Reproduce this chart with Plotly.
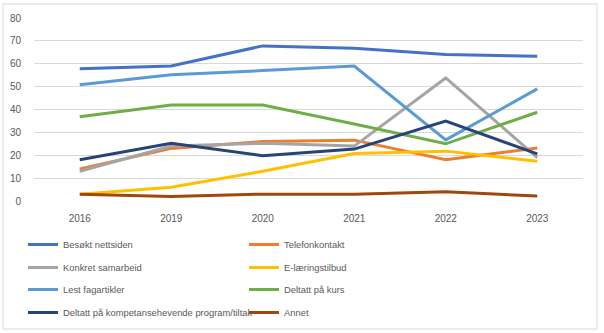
import plotly.graph_objects as go

years = ["2016", "2019", "2020", "2021", "2022", "2023"]
besokt = [57.8, 59, 67.8, 66.8, 64, 63.3]
telefon = [14, 23, 26, 26.6, 18, 23.2]
konkret = [13, 24, 25.2, 24, 53.8, 19]
elaering = [3, 6, 13, 20.8, 21.8, 17.4]
lest = [50.8, 55.2, 57, 59, 26.7, 49]
kurs = [36.8, 42, 42, 33.7, 25, 38.8]
kompetanse = [18, 25.2, 19.8, 22.7, 34.9, 20.6]
annet = [3, 2, 3, 3, 4, 2.2]

names = ["Besøkt nettsiden", "Telefonkontakt", "Konkret samarbeid", "E-læringstilbud",
         "Lest fagartikler", "Deltatt på kurs", "Deltatt på kompetansehevende program/tiltak", "Annet"]
series = [besokt, telefon, konkret, elaering, lest, kurs, kompetanse, annet]
colors = ["#4472C4", "#ED7D31", "#A5A5A5", "#FFC000", "#5B9BD5", "#70AD47", "#264478", "#9E480E"]

legend_ids = ["legend", "legend", "legend2", "legend2", "legend3", "legend3", "legend4", "legend4"]

fig = go.Figure()
for n, s, c, lg in zip(names, series, colors, legend_ids):
    fig.add_trace(go.Scatter(x=years, y=s, name=n, mode="lines", legend=lg,
                             line=dict(color=c, width=3)))

W, H = 604, 333
ml, mr, mt, mb = 34, 21, 18, 132
pw, ph = W - ml - mr, H - mt - mb

def px2x(p):
    return (p - ml) / pw

def px2y(p):
    return (H - mb - p) / ph

def leg(top):
    return dict(orientation="h", xref="container", yref="container",
                x=23 / W, xanchor="left", y=1 - top / H, yanchor="top",
                entrywidth=176, entrywidthmode="pixels", itemwidth=30,
                bgcolor="rgba(0,0,0,0)",
                font=dict(family="Liberation Sans", size=9.4, color="#595959"), traceorder="normal")

fig.update_layout(
    width=W, height=H,
    margin=dict(l=ml, r=mr, t=mt, b=mb, autoexpand=False),
    paper_bgcolor="white", plot_bgcolor="white",
    font=dict(family="Liberation Sans", size=10, color="#595959"),
    showlegend=True,
    legend=leg(230), legend2=leg(253), legend3=leg(275), legend4=leg(298),
    xaxis=dict(type="category", range=[-0.5, 5.5], showgrid=False, zeroline=False, showline=False,
               automargin=False,
               ticks="outside", ticklen=8, tickcolor="rgba(0,0,0,0)",
               tickfont=dict(size=10, color="#595959")),
    yaxis=dict(range=[0, 80], dtick=10, showgrid=True, gridcolor="#D9D9D9", gridwidth=1,
               automargin=False,
               zeroline=False, showline=False, ticks="outside", ticklen=10,
               tickcolor="rgba(0,0,0,0)", tickfont=dict(size=10, color="#595959")),
    shapes=[dict(type="rect", xref="paper", yref="paper",
                 x0=px2x(3), x1=px2x(597), y0=px2y(329), y1=px2y(4),
                 line=dict(color="#D9D9D9", width=1), fillcolor="rgba(0,0,0,0)", layer="below")],
)

fig.write_html("out.html")
